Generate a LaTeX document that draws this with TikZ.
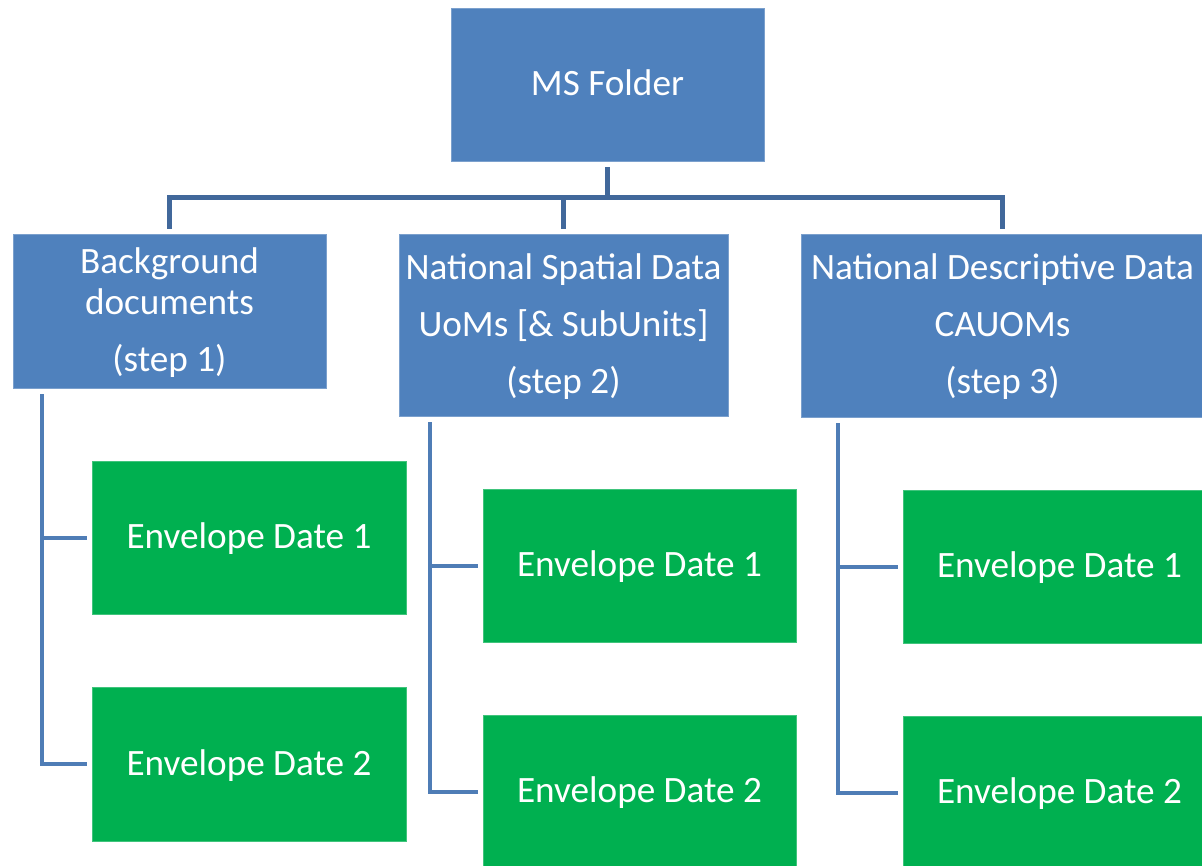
\documentclass[tikz,border=0pt]{standalone}
\usepackage{fontspec}
\setmainfont{Carlito}
\definecolor{boxblue}{RGB}{79,129,189}
\definecolor{boxgreen}{RGB}{0,176,80}
\definecolor{linedark}{RGB}{65,104,155}
\definecolor{linelight}{RGB}{79,125,182}
\begin{document}
\begin{tikzpicture}[x=1pt,y=-1pt,
  basebox/.style={rectangle, inner sep=0pt, text=white, align=center, line width=0.8pt,
    text depth=3.2pt, font=\fontsize{37.2}{41}\selectfont},
  bluebox/.style={basebox, fill=boxblue, draw=boxblue!75!white},
  greenbox/.style={basebox, fill=boxgreen, draw=boxgreen!75!white},
  topline/.style={draw=linedark, line width=5pt},
  subline/.style={draw=linelight, line width=4pt}]
\useasboundingbox (0,0) rectangle (1202,866);
\clip (0,0) rectangle (1202,866);
\fill[white] (0,0) rectangle (1202,866);

% top level
\node[bluebox, minimum width=313pt, minimum height=153pt] (ms) at (607.5,84.5) {MS Folder};

% second level
\node[bluebox, minimum width=313pt, minimum height=154pt] (b1) at (169.5,311)
  {Background\\documents\\[16pt](step 1)};
\node[bluebox, minimum width=329pt, minimum height=182pt] (b2) at (563.5,325)
  {National Spatial Data\\[16pt]UoMs [\& SubUnits]\\[16pt](step 2)};
\node[bluebox, minimum width=403pt, minimum height=183pt] (b3) at (1002.5,325.5)
  {National Descriptive Data\\[16pt]CAUOMs\\[16pt](step 3)};

% envelopes
\node[greenbox, minimum width=314pt, minimum height=153pt] (e11) at (249,537.5) {Envelope Date 1};
\node[greenbox, minimum width=314pt, minimum height=154pt] (e12) at (249,764) {Envelope Date 2};
\node[greenbox, minimum width=313pt, minimum height=153pt] (e21) at (639.5,565.5) {Envelope Date 1};
\node[greenbox, minimum width=313pt, minimum height=153pt] (e22) at (639.5,791.5) {Envelope Date 2};
\node[greenbox, minimum width=313pt, minimum height=153pt] (e31) at (1059.5,566.5) {Envelope Date 1};
\node[greenbox, minimum width=313pt, minimum height=153pt] (e32) at (1059.5,792.5) {Envelope Date 2};

% top connectors
\coordinate (bus) at (0,198);
\draw[topline] ([yshift=-6pt]ms.south) -- (ms.south |- bus);
\draw[topline] ([yshift=5pt]b1.north) -- (b1.north |- bus) -- (b3.north |- bus) -- ([yshift=5pt]b3.north);
\draw[topline] (b2.north |- bus) -- ([yshift=5pt]b2.north);

% lower connectors
\coordinate (s1) at ([xshift=29pt,yshift=-6pt]b1.south west);
\coordinate (s2) at ([xshift=31pt,yshift=-6pt]b2.south west);
\coordinate (s3) at ([xshift=37pt,yshift=-6pt]b3.south west);
\draw[subline] (s1) |- ([xshift=-5pt]e12.west);
\draw[subline] (s1 |- e11.west) -- ([xshift=-5pt]e11.west);
\draw[subline] (s2) |- ([xshift=-5pt]e22.west);
\draw[subline] (s2 |- e21.west) -- ([xshift=-5pt]e21.west);
\draw[subline] (s3) |- ([xshift=-5pt]e32.west);
\draw[subline] (s3 |- e31.west) -- ([xshift=-5pt]e31.west);
\end{tikzpicture}
\end{document}
